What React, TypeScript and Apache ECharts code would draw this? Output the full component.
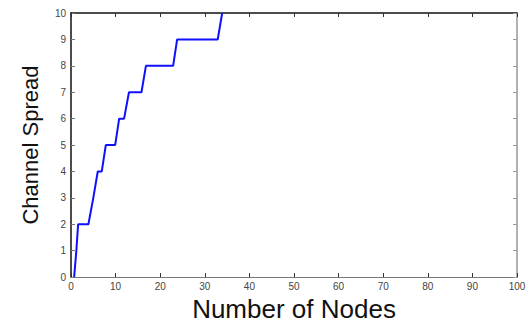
import React, { useEffect, useRef } from "react";
import * as echarts from "echarts";

const nodes = [0.7, 1.2, 1.6, 3.9, 5.0, 6.0, 6.9, 7.8, 9.9, 10.8, 11.9, 13.0, 15.8, 16.8, 22.9, 23.8, 32.9, 33.9];
const spread = [0, 1, 2, 2, 3, 4, 4, 5, 5, 6, 6, 7, 7, 8, 8, 9, 9, 10];
const xTicks = [0, 10, 20, 30, 40, 50, 60, 70, 80, 90, 100];
const yTicks = [0, 1, 2, 3, 4, 5, 6, 7, 8, 9, 10];

export default function App() {
  const ref = useRef<HTMLDivElement>(null);
  useEffect(() => {
    const chart = echarts.init(ref.current!, null, { renderer: "svg" });
    const tickFont = { fontFamily: "Liberation Sans, Arial, sans-serif", fontSize: 10, color: "#444" };
    chart.setOption({
      animation: false,
      backgroundColor: "#ffffff",
      grid: { left: 71, right: 12, top: 13, bottom: 40, containLabel: false },
      xAxis: [
        {
          type: "value",
          min: xTicks[0],
          max: xTicks[xTicks.length - 1],
          interval: 10,
          position: "bottom",
          name: "Number of Nodes",
          nameLocation: "middle",
          nameGap: 11,
          nameTextStyle: { fontFamily: "Liberation Sans, Arial, sans-serif", fontSize: 26, color: "#111" },
          axisLine: { show: true, onZero: false, lineStyle: { color: "#777", width: 1 } },
          axisTick: { show: true, inside: true, length: 4, lineStyle: { color: "#333" } },
          axisLabel: { ...tickFont, margin: 4 },
          splitLine: { show: false },
        },
        {
          type: "value",
          min: 0,
          max: 100,
          interval: 10,
          position: "top",
          axisLine: { show: true, onZero: false, lineStyle: { color: "#111", width: 1.5 } },
          axisTick: { show: true, inside: true, length: 4, lineStyle: { color: "#333" } },
          axisLabel: { show: false },
          splitLine: { show: false },
        },
      ],
      yAxis: [
        {
          type: "value",
          min: yTicks[0],
          max: yTicks[yTicks.length - 1],
          interval: 1,
          position: "left",
          name: "Channel Spread",
          nameLocation: "middle",
          nameGap: 30,
          nameTextStyle: { fontFamily: "Liberation Sans, Arial, sans-serif", fontSize: 22, color: "#111" },
          axisLine: { show: true, onZero: false, lineStyle: { color: "#111", width: 1.5 } },
          axisTick: { show: true, inside: true, length: 4, lineStyle: { color: "#777" } },
          axisLabel: { ...tickFont, margin: 5 },
          splitLine: { show: false },
        },
        {
          type: "value",
          min: 0,
          max: 10,
          interval: 1,
          position: "right",
          axisLine: { show: true, onZero: false, lineStyle: { color: "#999", width: 1.5 } },
          axisTick: { show: true, inside: true, length: 4, lineStyle: { color: "#999" } },
          axisLabel: { show: false },
          splitLine: { show: false },
        },
      ],
      series: [
        {
          type: "line",
          xAxisIndex: 0,
          yAxisIndex: 0,
          data: nodes.map((x, i) => [x, spread[i]]),
          showSymbol: false,
          symbol: "none",
          lineStyle: { color: "#1010ff", width: 2 },
          clip: true,
        },
      ],
    });
    return () => chart.dispose();
  }, []);
  return (
    <div
      ref={ref}
      style={{ position: "fixed", left: 0, top: 0, width: 529, height: 327, background: "#fff" }}
    />
  );
}
